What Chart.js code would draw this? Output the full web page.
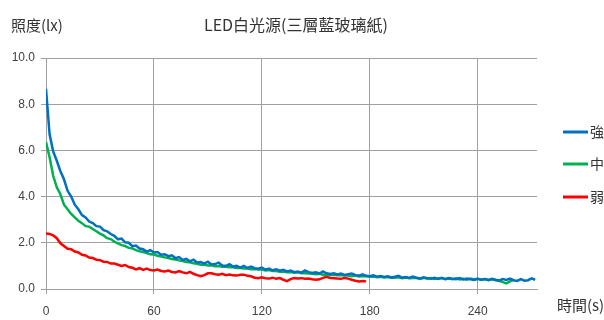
<!DOCTYPE html>
<html>
<head>
<meta charset="utf-8">
<script src="https://cdn.jsdelivr.net/npm/chart.js@4"></script>
<style>
  body { margin: 0; background: #fff; }
  .wrap { width: 604px; height: 320px; }
</style>
</head>
<body>
<div class="wrap"><canvas id="chart"></canvas></div>
<script>
// time step between samples (s)
const STEP = 2;

const seriesNames = ['強', '中', '弱'];
const xTicks = [0, 60, 120, 180, 240];
const yTicks = [0, 2, 4, 6, 8, 10];

// 強 (blue), 0..272 s
const strongLux = [
  8.66, 6.7, 5.95, 5.55, 5.1, 4.75, 4.25, 4.0, 3.65, 3.45,
  3.2, 3.1, 2.92, 2.85, 2.72, 2.7, 2.55, 2.5, 2.38, 2.3,
  2.15, 2.18, 2.02, 2.0, 1.85, 1.88, 1.75, 1.72, 1.62, 1.68,
  1.58, 1.6, 1.48, 1.5, 1.42, 1.46, 1.33, 1.38, 1.26, 1.3,
  1.2, 1.27, 1.15, 1.17, 1.1, 1.18, 1.06, 1.08, 1.14, 1.02,
  1.0, 1.07, 0.97, 1.0, 0.93, 1.0, 0.91, 0.97, 0.9, 0.88,
  0.93, 0.84, 0.88, 0.81, 0.85, 0.79, 0.83, 0.76, 0.8, 0.73,
  0.76, 0.71, 0.8, 0.73, 0.69, 0.72, 0.67, 0.76, 0.68, 0.65,
  0.68, 0.63, 0.67, 0.61, 0.64, 0.67, 0.6, 0.58, 0.63, 0.57,
  0.55, 0.59, 0.53, 0.56, 0.52, 0.55, 0.5, 0.53, 0.57, 0.49,
  0.52, 0.48, 0.54, 0.49, 0.46, 0.51, 0.47, 0.45, 0.49, 0.44,
  0.48, 0.43, 0.47, 0.44, 0.42, 0.47, 0.41, 0.45, 0.42, 0.39,
  0.44, 0.4, 0.43, 0.38, 0.44, 0.4, 0.37, 0.43, 0.39, 0.45,
  0.38, 0.35, 0.43, 0.36, 0.38, 0.46, 0.4
];

// 中 (green), 0..260 s
const midLux = [
  6.36, 5.7, 4.9, 4.4, 4.1, 3.65, 3.45, 3.25, 3.1, 2.95,
  2.85, 2.72, 2.7, 2.6, 2.5, 2.4, 2.32, 2.2, 2.16, 2.05,
  1.97, 1.9, 1.86, 1.78, 1.76, 1.68, 1.63, 1.6, 1.56, 1.5,
  1.49, 1.44, 1.41, 1.37, 1.34, 1.3, 1.28, 1.24, 1.21, 1.17,
  1.16, 1.11, 1.09, 1.05, 1.06, 1.02, 1.03, 0.99, 0.99, 0.96,
  0.96, 0.94, 0.94, 0.91, 0.91, 0.89, 0.89, 0.86, 0.86, 0.84,
  0.84, 0.8, 0.82, 0.78, 0.78, 0.75, 0.76, 0.73, 0.73, 0.7,
  0.72, 0.68, 0.68, 0.67, 0.66, 0.64, 0.66, 0.62, 0.63, 0.6,
  0.62, 0.59, 0.59, 0.58, 0.58, 0.55, 0.58, 0.54, 0.55, 0.55,
  0.53, 0.54, 0.51, 0.53, 0.5, 0.52, 0.49, 0.49, 0.51, 0.47,
  0.5, 0.47, 0.48, 0.48, 0.45, 0.48, 0.44, 0.47, 0.43, 0.46,
  0.47, 0.42, 0.45, 0.42, 0.46, 0.41, 0.44, 0.4, 0.45, 0.41,
  0.44, 0.4, 0.43, 0.39, 0.42, 0.38, 0.35, 0.3, 0.24, 0.33,
  0.4
];

// 弱 (red), 0..178 s
const weakLux = [
  2.4, 2.38, 2.32, 2.2, 1.98, 1.86, 1.74, 1.72, 1.62, 1.58,
  1.48, 1.45, 1.36, 1.34, 1.27, 1.25, 1.18, 1.17, 1.1, 1.1,
  1.05, 1.0, 1.04, 0.95, 0.92, 0.85, 0.9, 0.83, 0.88, 0.82,
  0.8, 0.84, 0.78, 0.76, 0.8, 0.74, 0.72, 0.78, 0.72, 0.68,
  0.74, 0.66, 0.6, 0.55, 0.6, 0.68, 0.68, 0.64, 0.62, 0.66,
  0.6, 0.63, 0.59, 0.58, 0.62, 0.62, 0.57, 0.55, 0.49, 0.47,
  0.51, 0.46, 0.45, 0.49, 0.44, 0.47, 0.4, 0.34, 0.43, 0.47,
  0.45, 0.47, 0.44, 0.45, 0.42, 0.4, 0.42, 0.48, 0.53, 0.48,
  0.47, 0.45, 0.44, 0.48, 0.45, 0.4, 0.36, 0.33, 0.35, 0.33
];

const colors = ['#0070C0', '#00B050', '#FF0000'];
const gridColor = '#a0a0a0';
const textColor = '#404040';
const cjkFont = '"Noto Sans CJK TC", "Noto Sans", sans-serif';
const numFont = '"Liberation Sans", Arial, sans-serif';

const toPoints = arr => arr.map((v, i) => ({ x: i * STEP, y: v }));

// titles + legend drawn by hand to match the original layout
const decorations = {
  id: 'decorations',
  afterDraw(chart) {
    const ctx = chart.ctx;
    ctx.save();
    ctx.fillStyle = '#333';
    ctx.textBaseline = 'middle';

    ctx.font = '16px ' + cjkFont;
    ctx.textAlign = 'left';
    ctx.fillText('LED白光源(三層藍玻璃紙)', 204, 25);

    ctx.font = '15px ' + cjkFont;
    ctx.fillText('照度(lx)', 11, 25);
    ctx.fillText('時間(s)', 557, 305);

    // legend
    const rows = [132, 164, 197];
    ctx.font = '14px ' + cjkFont;
    seriesNames.forEach((name, i) => {
      ctx.strokeStyle = colors[i];
      ctx.lineWidth = 3;
      ctx.beginPath();
      ctx.moveTo(563, rows[i]);
      ctx.lineTo(588, rows[i]);
      ctx.stroke();
      ctx.fillStyle = '#333';
      ctx.fillText(name, 590, rows[i]);
    });
    ctx.restore();
  }
};

new Chart(document.getElementById('chart'), {
  type: 'line',
  data: {
    datasets: [strongLux, midLux, weakLux].map((arr, i) => ({
      label: seriesNames[i],
      data: toPoints(arr),
      borderColor: colors[i],
      backgroundColor: colors[i],
      borderWidth: 2.5,
      pointRadius: 0,
      tension: 0,
      fill: false
    }))
  },
  options: {
    responsive: true,
    maintainAspectRatio: false,
    animation: false,
    layout: { padding: { top: 58, right: 67, left: 0, bottom: 0 } },
    plugins: {
      legend: { display: false },
      title: { display: false },
      tooltip: { enabled: false }
    },
    scales: {
      x: {
        type: 'linear',
        min: 0,
        max: 273,
        afterFit: s => { s.height = 31; },
        afterBuildTicks: s => { s.ticks = xTicks.map(v => ({ value: v })); },
        ticks: {
          autoSkip: false,
          maxRotation: 0,
          padding: 10,
          color: textColor,
          font: { family: numFont, size: 12 },
          callback: v => String(v)
        },
        grid: { color: gridColor, lineWidth: 1, tickLength: 5 },
        border: { color: gridColor }
      },
      y: {
        min: 0,
        max: 10,
        afterFit: s => { s.width = 46; },
        afterBuildTicks: s => { s.ticks = yTicks.map(v => ({ value: v })); },
        ticks: {
          padding: 6,
          color: textColor,
          font: { family: numFont, size: 12 },
          callback: v => v.toFixed(1)
        },
        grid: { color: gridColor, lineWidth: 1, tickLength: 5 },
        border: { color: gridColor }
      }
    }
  },
  plugins: [decorations]
});
</script>
</body>
</html>
